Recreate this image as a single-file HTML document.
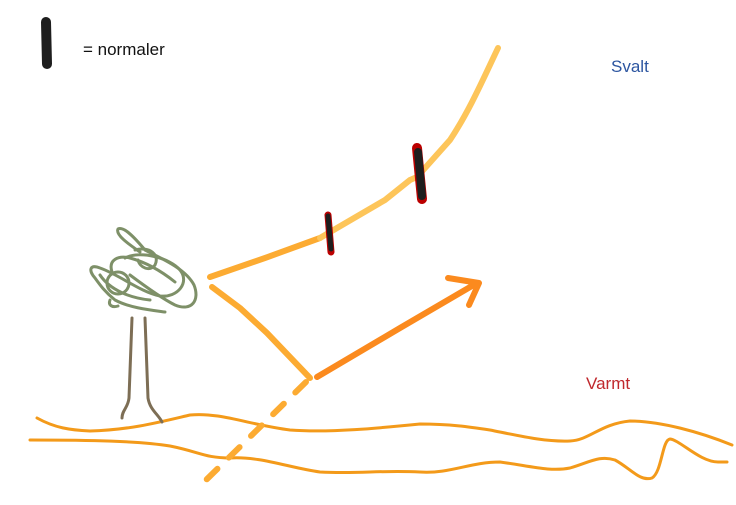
<!DOCTYPE html>
<html><head><meta charset="utf-8"><style>
html,body{margin:0;padding:0;background:#fff;width:736px;height:505px;overflow:hidden}
</style></head><body>
<svg width="736" height="505" viewBox="0 0 736 505" xmlns="http://www.w3.org/2000/svg" fill="none" stroke-linecap="round" stroke-linejoin="round">
<!-- legend -->
<path d="M46 22 L47 64" stroke="#1e1e1e" stroke-width="10"/>
<text x="83" y="55" font-family="Liberation Sans, sans-serif" font-size="17" fill="#111" stroke="none">= normaler</text>
<text x="611" y="72" font-family="Liberation Sans, sans-serif" font-size="17" fill="#2c55a0" stroke="none">Svalt</text>
<text x="586" y="389" font-family="Liberation Sans, sans-serif" font-size="17" fill="#c0282d" stroke="none">Varmt</text>
<!-- ground lines -->
<path d="M37 418 C55 428 70 430 90 431 C130 430 160 422 190 415 C220 412 250 425 290 430 C330 433 380 428 420 424 C450 424 470 427 490 430 C520 436 545 442 570 441 C590 440 600 424 630 421 C660 421 700 432 732 445" stroke="#f39a1a" stroke-width="3"/>
<path d="M30 440 C90 440 140 441 170 446 C200 452 205 458 230 458 C260 456 290 468 320 472 C360 474 380 470 420 472 C450 474 470 462 500 462 C530 466 550 472 570 468 C590 462 600 455 615 460 C630 468 640 482 652 478 C662 472 662 440 670 439 C680 440 700 462 718 462 L727 462" stroke="#f39a1a" stroke-width="3"/>
<!-- tree -->
<path d="M132 318 L129 398 C128 408 122 410 122 418" stroke="#7d6e55" stroke-width="3"/>
<path d="M145 318 L148 398 C150 410 158 414 162 422" stroke="#7d6e55" stroke-width="3"/>
<g stroke="#7e9068" stroke-width="3">
<path d="M140 252 C130 245 115 235 118 229 C124 226 135 238 145 250 C160 258 185 268 194 285 C200 300 192 312 175 305 C165 300 150 290 130 275"/>
<path d="M125 258 C140 250 170 258 180 270 C190 282 178 298 160 296 C140 292 120 275 100 268 C90 264 88 270 95 278 C100 285 105 292 115 300 C130 308 150 310 165 312"/>
<path d="M100 275 C110 290 130 298 150 300"/>
<path d="M112 272 C108 260 118 255 130 258 C145 262 160 270 175 282"/>
<path d="M135 250 C150 246 160 255 155 265 C150 272 140 268 138 260"/>
<circle cx="118" cy="283" r="11"/>
<path d="M110 300 C108 305 112 308 118 306"/>
</g>
<!-- yellow path -->
<path d="M210 277 L265 258 L320 238" stroke="#fcab32" stroke-width="6"/>
<path d="M320 238 L337 228 L385 200 L410 180 L417 177 L450 140 C470 110 485 75 498 48" stroke="#fdc55a" stroke-width="6"/>
<path d="M212 287 L240 308 L267 333 L310 378" stroke="#fcab32" stroke-width="6"/>
<!-- dashed -->
<path d="M306 382 L205 481" stroke="#fcab32" stroke-width="6" stroke-dasharray="15 16"/>
<!-- arrow -->
<path d="M317 377 L400 328 L477 283" stroke="#fb8a1e" stroke-width="6"/>
<path d="M448 278 L479 283 L469 305" stroke="#fb8a1e" stroke-width="6"/>
<!-- marks -->
<path d="M328 215 L331 252" stroke="#b00" stroke-width="7"/>
<path d="M328 216 L331 249" stroke="#1e1e1e" stroke-width="5"/>
<path d="M417 148 L422 199" stroke="#b00" stroke-width="10"/>
<path d="M418 152 L422 196" stroke="#1e1e1e" stroke-width="8"/>
</svg>
</body></html>
